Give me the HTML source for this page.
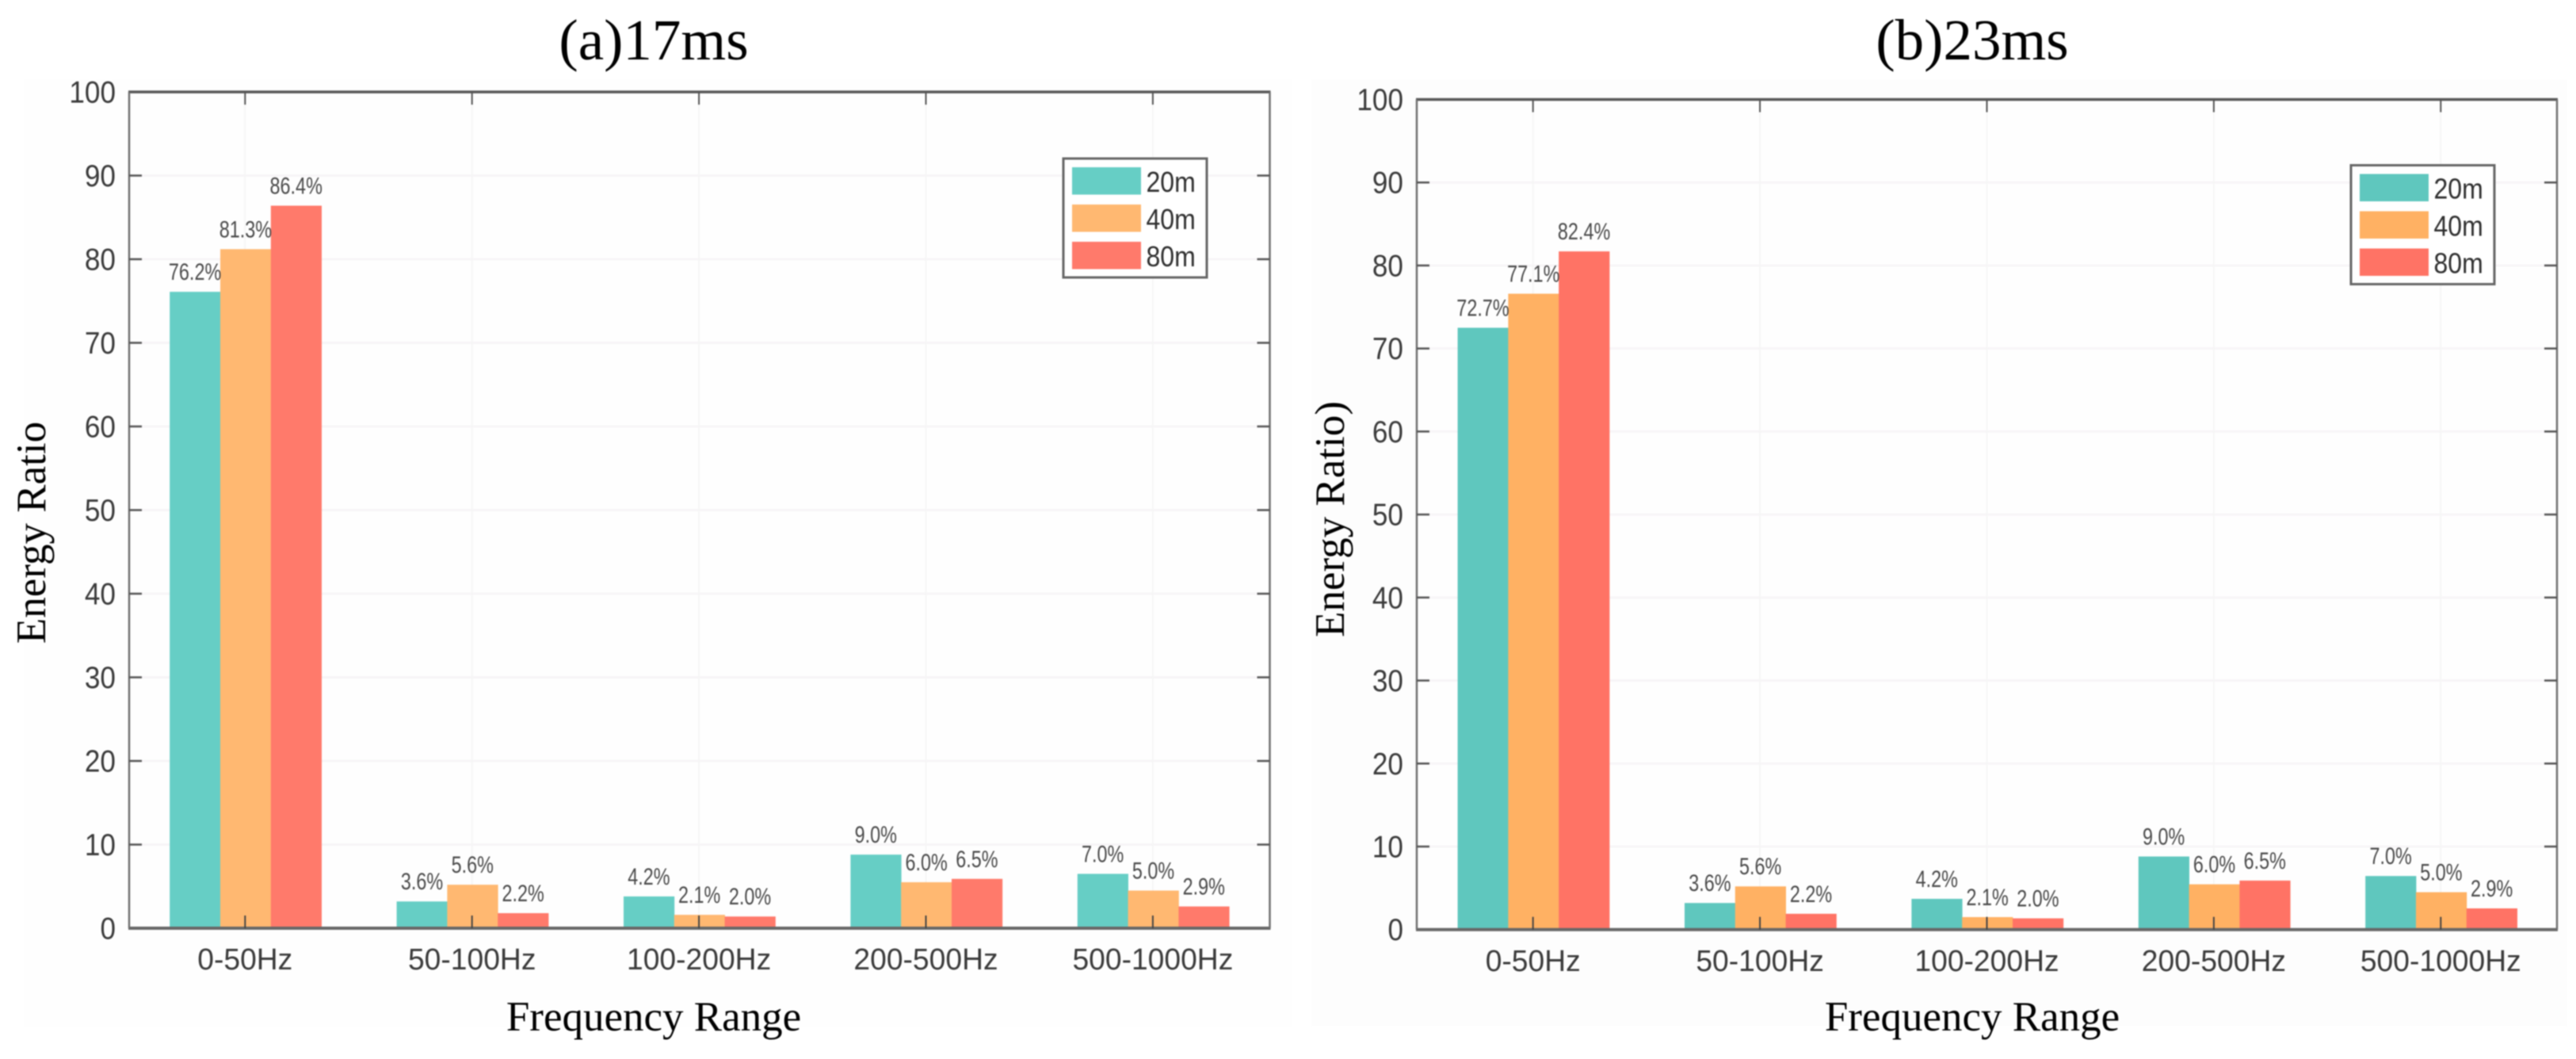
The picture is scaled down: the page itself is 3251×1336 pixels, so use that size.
<!DOCTYPE html>
<html lang="en">
<head>
<meta charset="utf-8">
<title>Energy Ratio by Frequency Range</title>
<style>
  html, body { margin: 0; padding: 0; background: #ffffff; }
  svg { display: block; filter: blur(0.7px); }
  .tick { font-family: "Liberation Sans", sans-serif; font-size: 39px; fill: #3a3a3a; }
  .xtick { font-family: "Liberation Sans", sans-serif; font-size: 38px; fill: #3a3a3a; }
  .value { font-family: "Liberation Sans", sans-serif; font-size: 30px; fill: #4a4a4a; }
  .legend-text { font-family: "Liberation Sans", sans-serif; font-size: 36px; fill: #2f2f2f; }
  .serif { font-family: "Liberation Serif", serif; fill: #000000; }
</style>
</head>
<body>
<svg id="figure" xmlns="http://www.w3.org/2000/svg" width="3251" height="1336" viewBox="0 0 3251 1336"></svg>
<script>
// ---- data ----
const categories = ['0-50Hz', '50-100Hz', '100-200Hz', '200-500Hz', '500-1000Hz'];
const seriesNames = ['20m', '40m', '80m'];
const yTicks = [0, 10, 20, 30, 40, 50, 60, 70, 80, 90, 100];

// bar heights as drawn, panel (a)
const panelA20m = [76.1, 3.2, 3.8, 8.8, 6.5];
const panelA40m = [81.2, 5.2, 1.6, 5.5, 4.5];
const panelA80m = [86.4, 1.8, 1.4, 5.9, 2.6];
// printed values, panel (a)
const panelA20mLabels = ['76.2%', '3.6%', '4.2%', '9.0%', '7.0%'];
const panelA40mLabels = ['81.3%', '5.6%', '2.1%', '6.0%', '5.0%'];
const panelA80mLabels = ['86.4%', '2.2%', '2.0%', '6.5%', '2.9%'];

// bar heights as drawn, panel (b)
const panelB20m = [72.5, 3.2, 3.7, 8.8, 6.45];
const panelB40m = [76.6, 5.2, 1.5, 5.45, 4.5];
const panelB80m = [81.7, 1.9, 1.35, 5.9, 2.55];
// printed values, panel (b)
const panelB20mLabels = ['72.7%', '3.6%', '4.2%', '9.0%', '7.0%'];
const panelB40mLabels = ['77.1%', '5.6%', '2.1%', '6.0%', '5.0%'];
const panelB80mLabels = ['82.4%', '2.2%', '2.0%', '6.5%', '2.9%'];

// ---- drawing ----
const NS = 'http://www.w3.org/2000/svg';
const figure = document.getElementById('figure');

function make(parent, tag, attrs, text) {
  const el = document.createElementNS(NS, tag);
  for (const k in attrs) el.setAttribute(k, attrs[k]);
  if (text !== undefined) el.textContent = text;
  parent.appendChild(el);
  return el;
}

function squeeze(el, factor) {
  const w = el.getComputedTextLength();
  el.setAttribute('textLength', (w * factor).toFixed(1));
  el.setAttribute('lengthAdjust', 'spacingAndGlyphs');
}

function drawPanel(p) {
  const g = make(figure, 'g', {});
  
  

  const yOf = v => p.bottom - (v / 100) * (p.bottom - p.top);
  const xOf = i => p.firstCenter + i * p.step;
  const barW = 63.8;

  // panel wash
  const wash = make(g, 'rect', { x: p.washX, y: 100, width: p.washW, height: 1195, fill: p.washFill });
  
  

  // plot background
  const plotBg = make(g, 'rect', { x: p.left, y: p.top, width: p.right - p.left, height: p.bottom - p.top, fill: '#fefefe' });
  
  

  // grid
  yTicks.forEach(v => {
    if (v === 0 || v === 100) return;
    const line = make(g, 'line', { x1: p.left, x2: p.right, y1: yOf(v), y2: yOf(v), stroke: '#f7f5f7', 'stroke-width': 3 });
    
    
  });
  categories.forEach((c, i) => {
    const line = make(g, 'line', { x1: xOf(i), x2: xOf(i), y1: p.top, y2: p.bottom, stroke: '#f6f6f6', 'stroke-width': 2 });
    
    
  });

  // bars and value labels
  p.series.forEach((vals, s) => {
    vals.forEach((v, i) => {
      const cx = xOf(i) + 0.6 + (s - 1) * barW;
      const y = yOf(v);
      const bar = make(g, 'rect', { x: cx - barW / 2, y: y, width: barW + 0.4, height: p.bottom - y, fill: p.colors[s] });
      
      
    });
  });
  p.series.forEach((vals, s) => {
    vals.forEach((v, i) => {
      const cx = xOf(i) + 0.6 + (s - 1) * barW;
      const label = make(g, 'text', { x: cx, y: yOf(v) - 15, 'text-anchor': 'middle', class: 'value' }, p.labels[s][i]);
      
      
      squeeze(label, 0.78);
    });
  });

  // frame
  const edge = '#6f6f6f';
  const top = make(g, 'line', { x1: p.left - 1, x2: p.right + 1, y1: p.top, y2: p.top, stroke: '#585858', 'stroke-width': 3.5 });
  
  
  const bottom = make(g, 'line', { x1: p.left - 1, x2: p.right + 1, y1: p.bottom, y2: p.bottom, stroke: '#686868', 'stroke-width': 4 });
  
  
  const leftSpine = make(g, 'line', { x1: p.left, x2: p.left, y1: p.top, y2: p.bottom, stroke: edge, 'stroke-width': 2.5 });
  
  
  const rightSpine = make(g, 'line', { x1: p.right, x2: p.right, y1: p.top, y2: p.bottom, stroke: edge, 'stroke-width': 2.5 });
  
  

  // y ticks
  yTicks.forEach(v => {
    const y = yOf(v);
    if (v !== 0 && v !== 100) {
      const tl = make(g, 'line', { x1: p.left, x2: p.left + 16, y1: y, y2: y, stroke: '#555', 'stroke-width': 2.5 });
      
      
      const tr = make(g, 'line', { x1: p.right - 16, x2: p.right, y1: y, y2: y, stroke: '#555', 'stroke-width': 2.5 });
      
      
    }
    const t = make(g, 'text', { x: p.left - 17, y: y + 13.5, 'text-anchor': 'end', class: 'tick' }, String(v));
    
    
    squeeze(t, 0.9);
  });

  // x ticks
  categories.forEach((c, i) => {
    const x = xOf(i);
    const tb = make(g, 'line', { x1: x, x2: x, y1: p.bottom - 16, y2: p.bottom, stroke: '#444', 'stroke-width': 2 });
    
    
    const tt = make(g, 'line', { x1: x, x2: x, y1: p.top, y2: p.top + 16, stroke: '#555', 'stroke-width': 2 });
    
    
    const t = make(g, 'text', { x: x, y: p.xLabelY, 'text-anchor': 'middle', class: 'xtick' }, c);
    
    
    squeeze(t, 0.98);
  });

  // titles
  const title = make(g, 'text', { x: p.titleX, y: 75, 'text-anchor': 'middle', class: 'serif', 'font-size': 73 }, p.title);
  
  
  const xt = make(g, 'text', { x: p.titleX, y: 1300, 'text-anchor': 'middle', class: 'serif', 'font-size': 53 }, 'Frequency Range');
  
  
  const yt = make(g, 'text', { x: 0, y: 0, 'text-anchor': 'middle', class: 'serif', 'font-size': 53, transform: 'translate(' + p.yTitleX + ' ' + p.yTitleY + ') rotate(-90)' }, p.yTitle);
  
  

  // legend
  const lg = make(g, 'g', {});
  
  
  const box = make(lg, 'rect', { x: p.legend.x, y: p.legend.y, width: p.legend.w, height: p.legend.h, fill: '#ffffff', stroke: '#666666', 'stroke-width': 3 });
  
  
  seriesNames.forEach((name, s) => {
    const rowY = p.legend.y + 11 + s * 47;
    const sw = make(lg, 'rect', { x: p.legend.x + 11, y: rowY, width: 87, height: 34.5, fill: p.colors[s] });
    
    
    const t = make(lg, 'text', { x: p.legend.x + 104.5, y: rowY + 31, class: 'legend-text' }, name);
    
    
    squeeze(t, 0.89);
  });
}

drawPanel({
  id: 'panel-a-17ms', title: '(a)17ms', yTitle: 'Energy Ratio',
  left: 163, right: 1602.5, top: 116, bottom: 1171,
  firstCenter: 309.3, step: 286.4, xLabelY: 1223,
  titleX: 825, yTitleX: 57, yTitleY: 672,
  washX: 30, washW: 1600, washFill: '#fefefe',
  colors: ['#66cec5', '#ffb871', '#ff7a6b'],
  series: [panelA20m, panelA40m, panelA80m],
  labels: [panelA20mLabels, panelA40mLabels, panelA80mLabels],
  legend: { x: 1342, y: 200, w: 181, h: 150 }
});

drawPanel({
  id: 'panel-b-23ms', title: '(b)23ms', yTitle: 'Energy Ratio)',
  left: 1788, right: 3227, top: 125.5, bottom: 1172.7,
  firstCenter: 1934.7, step: 286.4, xLabelY: 1225,
  titleX: 2489, yTitleX: 1696, yTitleY: 655,
  washX: 1655, washW: 1585, washFill: '#fdfdfd',
  colors: ['#5fc7be', '#ffb163', '#ff7365'],
  series: [panelB20m, panelB40m, panelB80m],
  labels: [panelB20mLabels, panelB40mLabels, panelB80mLabels],
  legend: { x: 2967, y: 208.5, w: 181, h: 150 }
});
</script>
</body>
</html>
